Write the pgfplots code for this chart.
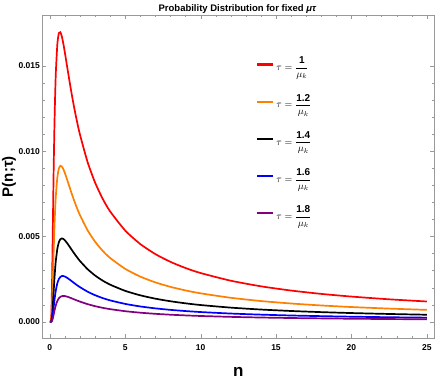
\documentclass[border=0pt]{standalone}
\usepackage{amsmath}
\usepackage{pgfplots}
\usepackage{pgfplotstable}
\pgfplotsset{compat=1.18}
\usepackage{fontspec}
\setmainfont{Liberation Sans}
\definecolor{mred}{rgb}{1,0,0}
\definecolor{morange}{rgb}{1,0.5,0}
\definecolor{mblue}{rgb}{0,0,1}
\definecolor{mpurple}{rgb}{0.5,0,0.5}
\definecolor{framegray}{rgb}{0.6,0.6,0.6}

\pgfplotstableread{
n     r         o         k         b         p
0     0         0         0         0         0
0.05  0.000001  0         0         0         0
0.1   0.000415  0.000134  0.000036  0.000013  0.000005
0.15  0.002496  0.000982  0.000342  0.000143  0.000061
0.2   0.005625  0.002446  0.000973  0.000442  0.000206
0.25  0.008706  0.004019  0.001732  0.000828  0.000404
0.3   0.011265  0.005413  0.002460  0.001215  0.000614
0.35  0.013221  0.006538  0.003086  0.001562  0.000808
0.4   0.014644  0.007397  0.003593  0.001851  0.000975
0.5   0.016296  0.008482  0.004288  0.002265  0.001223
0.6   0.016921  0.008986  0.004666  0.002506  0.001376
0.7   0.016972  0.009142  0.004838  0.002630  0.001461
0.8   0.016707  0.009097  0.004884  0.002678  0.001501
0.9   0.016277  0.008937  0.004851  0.002679  0.001512
1.0   0.015764  0.008713  0.004772  0.002650  0.001504
1.2   0.014664  0.008187  0.004544  0.002544  0.001456
1.4   0.013597  0.007645  0.004284  0.002413  0.001390
1.6   0.012619  0.007133  0.004026  0.002278  0.001318
1.8   0.011743  0.006666  0.003783  0.002148  0.001247
2.0   0.010964  0.006244  0.003559  0.002027  0.001180
2.5   0.009369  0.005368  0.003085  0.001765  0.001033
3     0.008159  0.004694  0.002711  0.001557  0.000914
3.5   0.007217  0.004163  0.002414  0.001389  0.000817
4     0.006465  0.003738  0.002174  0.001253  0.000739
5     0.005346  0.003100  0.001810  0.001046  0.000618
6     0.004554  0.002646  0.001549  0.000897  0.000531
7     0.003965  0.002307  0.001353  0.000784  0.000465
8     0.003511  0.002045  0.001201  0.000697  0.000413
9     0.003149  0.001836  0.001080  0.000627  0.000372
10    0.002855  0.001666  0.000980  0.000569  0.000338
12    0.002406  0.001405  0.000828  0.000481  0.000286
14    0.002078  0.001214  0.000716  0.000417  0.000248
16    0.001829  0.001070  0.000631  0.000367  0.000219
18    0.001633  0.000955  0.000564  0.000329  0.000196
20    0.001476  0.000863  0.000510  0.000297  0.000177
22.5  0.001316  0.000771  0.000456  0.000265  0.000158
25    0.001188  0.000696  0.000411  0.000240  0.000143
}\datatable

\begin{document}
\begin{tikzpicture}
\begin{axis}[
  scale only axis,
  width=392pt, height=323.3pt,
  xmin=-0.5, xmax=25.5,
  ymin=-0.00097, ymax=0.01798,
  xtick={0,5,10,15,20,25},
  ytick={0,0.005,0.010,0.015},
  minor x tick num=4,
  minor y tick num=4,
  scaled y ticks=false,
  yticklabel style={/pgf/number format/fixed, /pgf/number format/fixed zerofill, /pgf/number format/precision=3, inner sep=1pt, xshift=-1.3pt},
  xticklabel style={yshift=-3pt},
  /pgf/number format/assume math mode=true,
  tick label style={font=\fontsize{8.5}{10}\selectfont\bfseries},
  axis line style={framegray},
  tick style={framegray},
  major tick length=4pt,
  minor tick length=2.5pt,
  tick align=inside,
  title={\textbf{Probability Distribution for fixed \textit{μτ}}},
  title style={font=\fontsize{9.5}{11}\selectfont, at={(axis description cs:0.498,1)}, anchor=center},
  xlabel={\textbf{n}},
  xlabel style={font=\fontsize{17}{19}\selectfont, at={(axis description cs:0.5,-0.103)}, anchor=center},
  ylabel={\textbf{P(n;τ)}},
  ylabel style={font=\fontsize{15}{17}\selectfont, at={(axis description cs:-0.085,0.5)}, anchor=center},
  legend style={draw=none, fill=none, at={(axis description cs:0.545,0.877)}, anchor=north west, inner sep=0pt, row sep=18pt, font=\fontsize{10}{12}\selectfont, legend cell align=left},
  legend image code/.code={\draw[#1, line width=2.2pt] (0pt,0pt) -- (16pt,0pt);},
  every axis plot/.append style={line width=1.7pt, smooth, tension=0.4},
]
\addplot[mred] table[x=n, y=r] {\datatable};
\addlegendentry{$\tau=\dfrac{\textbf{1}}{\mu_k}$}
\addplot[morange] table[x=n, y=o] {\datatable};
\addlegendentry{$\tau=\dfrac{\textbf{1.2}}{\mu_k}$}
\addplot[black] table[x=n, y=k] {\datatable};
\addlegendentry{$\tau=\dfrac{\textbf{1.4}}{\mu_k}$}
\addplot[mblue] table[x=n, y=b] {\datatable};
\addlegendentry{$\tau=\dfrac{\textbf{1.6}}{\mu_k}$}
\addplot[mpurple] table[x=n, y=p] {\datatable};
\addlegendentry{$\tau=\dfrac{\textbf{1.8}}{\mu_k}$}
\coordinate (ll) at (rel axis cs:0,0);
\coordinate (ur) at (rel axis cs:1,1);
\end{axis}
\pgfresetboundingbox
\path ([shift={(-42.3pt,-43.7pt)}]ll) rectangle ([shift={(1.7pt,15pt)}]ur);
\end{tikzpicture}
\end{document}
